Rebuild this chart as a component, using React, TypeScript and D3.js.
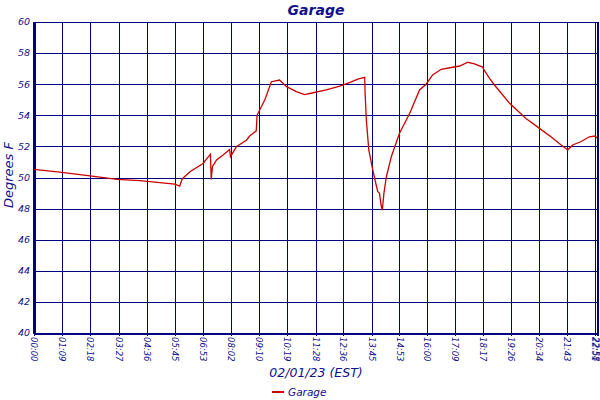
import React from 'react';
import * as d3 from 'd3';

const chartTitle = 'Garage';
const xAxisTitle = '02/01/23 (EST)';
const yAxisTitle = 'Degrees F';
const seriesName = 'Garage';

// minutes after midnight
const minutes = [
  0, 68, 137, 203, 259, 344, 356, 361, 364, 381, 413, 431, 433, 436, 446, 462, 478, 480,
  495, 519, 527, 543, 545, 564, 580, 600, 617, 641, 661, 682, 714, 747, 771, 791, 808,
  809, 812, 818, 826, 835, 840, 844, 848, 851, 855, 861, 873, 893, 918, 942, 958, 974,
  995, 1023, 1040, 1060, 1076, 1096, 1100, 1113, 1125, 1162, 1202, 1235, 1263, 1288,
  1304, 1316, 1336, 1357, 1371, 1375,
];
const temps = [
  50.52, 50.33, 50.1, 49.88, 49.8, 49.58, 49.45, 49.84, 49.95, 50.37, 50.9, 51.5, 49.88,
  50.7, 51.13, 51.45, 51.8, 51.34, 52.0, 52.4, 52.67, 53.0, 54.0, 55.0, 56.16, 56.27,
  55.84, 55.52, 55.33, 55.45, 55.63, 55.88, 56.1, 56.33, 56.44, 55.4, 53.7, 51.77, 50.7,
  49.63, 49.09, 49.0, 48.23, 47.9, 49.0, 50.05, 51.34, 52.85, 54.13, 55.63, 56.0, 56.6,
  56.96, 57.09, 57.17, 57.41, 57.3, 57.1, 56.9, 56.38, 55.95, 54.77, 53.8, 53.16, 52.62,
  52.09, 51.77, 52.09, 52.3, 52.62, 52.67, 52.54,
];

const xTickLabels = [
  '00:00', '01:09', '02:18', '03:27', '04:36', '05:45', '06:53', '08:02', '09:10', '10:19',
  '11:28', '12:36', '13:45', '14:53', '16:00', '17:09', '18:17', '19:26', '20:34', '21:43',
  '22:51', '22:58',
];
const yTicks = [40, 42, 44, 46, 48, 50, 52, 54, 56, 58, 60];
const xDomain = [0, 1378];
const yDomain = [40, 60];

const toMin = (s: string) => {
  const [h, m] = s.split(':').map(Number);
  return h * 60 + m;
};

export default function App() {
  const W = 600;
  const H = 400;
  const left = 34;
  const right = 598;
  const top = 22;
  const bottom = 333;
  const navy = '#000080';
  const textCol = '#10108a';
  const font = '"DejaVu Sans", Verdana, sans-serif';

  const x = d3.scaleLinear().domain(xDomain).range([left, right]);
  const y = d3.scaleLinear().domain(yDomain).range([bottom, top]);

  const pts: [number, number][] = minutes.map((m, i) => [m, temps[i]]);
  const line = d3
    .line<[number, number]>()
    .x((d) => x(d[0]))
    .y((d) => y(d[1]));

  const cx = (left + right) / 2;

  return (
    <svg
      width={W}
      height={H}
      style={{ position: 'absolute', left: 0, top: 0, display: 'block', background: '#fff' }}
      fontFamily={font}
    >
      <rect x={0} y={0} width={W} height={H} fill="#fff" />
      <g shapeRendering="crispEdges">
        {yTicks.map((t) => (
          <line key={'h' + t} x1={left} x2={right} y1={Math.round(y(t)) + 0.5} y2={Math.round(y(t)) + 0.5} stroke={navy} strokeWidth={1} />
        ))}
        {xTickLabels.slice(0, -1).map((l) => {
          const px = Math.round(x(toMin(l))) + 0.5;
          return (
            <line key={'v' + l} x1={px} x2={px} y1={top} y2={bottom + 3} stroke={navy} strokeWidth={1} />
          );
        })}
        <line x1={left} x2={left} y1={top} y2={bottom + 1} stroke={navy} strokeWidth={3} />
        <line x1={left} x2={right} y1={bottom + 0.5} y2={bottom + 0.5} stroke={navy} strokeWidth={2} />
        <line x1={right} x2={right} y1={top} y2={bottom + 3} stroke={navy} strokeWidth={2} />
      </g>
      <path d={line(pts) || ''} fill="none" stroke="#cc0000" strokeWidth={1.3} />
      {yTicks.map((t) => (
        <text
          key={'yl' + t}
          x={30}
          y={y(t)}
          dy="0.35em"
          textAnchor="end"
          fontSize={9.5}
          fontStyle="italic"
          fill={textCol}
        >
          {t}
        </text>
      ))}
      {xTickLabels.map((l) => (
        <text
          key={'xl' + l}
          transform={`translate(${Math.min(x(toMin(l)), W - 4)},${bottom + 4}) rotate(90)`}
          dy="0.35em"
          textAnchor="start"
          fontSize={8.5}
          fontStyle="italic"
          fill={textCol}
        >
          {l}
        </text>
      ))}
      <text x={cx} y={15} textAnchor="middle" fontSize={14} fontWeight="bold" fontStyle="italic" fill={textCol}>
        {chartTitle}
      </text>
      <text x={cx} y={377} textAnchor="middle" fontSize={12.5} fontStyle="italic" fill={textCol}>
        {xAxisTitle}
      </text>
      <text
        transform={`translate(13,175) rotate(-90)`}
        textAnchor="middle"
        fontSize={13}
        fontStyle="italic"
        fill={textCol}
      >
        {yAxisTitle}
      </text>
      <line x1={272} x2={284} y1={392} y2={392} stroke="#cc0000" strokeWidth={2} />
      <text x={288} y={396} fontSize={10.5} fontStyle="italic" fill={textCol}>
        {seriesName}
      </text>
    </svg>
  );
}
